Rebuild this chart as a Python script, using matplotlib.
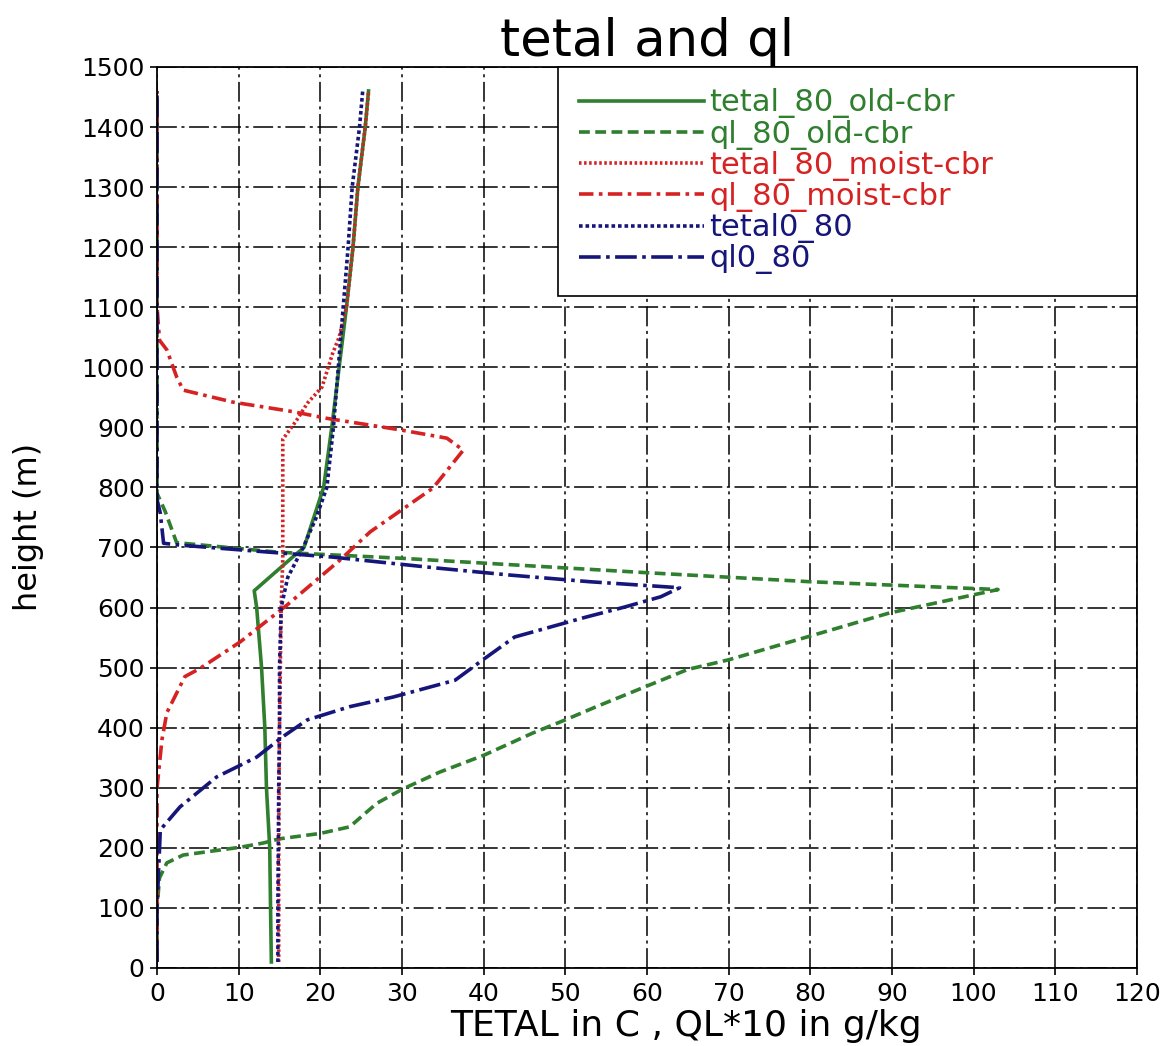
import matplotlib
matplotlib.use('Agg')
import matplotlib.pyplot as plt

# tetal_80_old-cbr
h_tetal_old = [10, 100, 200, 300, 400, 500, 600, 628, 684, 700, 800, 900, 1000, 1100, 1200, 1300, 1400, 1460]
x_tetal_old = [14.0, 13.9, 13.8, 13.4, 13.2, 12.8, 12.2, 11.9, 16.6, 18.0, 20.4, 21.4, 22.3, 23.2, 24.0, 24.6, 25.5, 25.9]

# ql_80_old-cbr
h_ql_old = [10, 100, 150, 175, 188, 201, 208, 215, 224, 235, 274, 298, 326, 354, 391, 413, 435, 497,
            513, 591, 630, 643, 658, 682, 692, 708, 760, 790, 1000, 1200, 1460]
x_ql_old = [0, 0, 0.3, 1.2, 3.2, 10.2, 13.0, 15.0, 20.0, 23.6, 26.9, 30.1, 34.6, 40.0, 46.0, 50.0, 53.8, 65.0,
            70.0, 89.7, 103.0, 80.0, 60.0, 30.0, 15.0, 2.4, 1.0, 0.0, 0, 0, 0]

# tetal_80_moist-cbr
h_tetal_moist = [10, 200, 400, 600, 680, 880, 912, 940, 967, 1023, 1050, 1100, 1200, 1300, 1400, 1458]
x_tetal_moist = [14.9, 14.9, 15.0, 15.2, 15.4, 15.4, 17.1, 18.4, 20.2, 21.5, 22.3, 23.2, 24.0, 24.6, 25.5, 25.9]

# ql_80_moist-cbr
h_ql_moist = [10, 100, 200, 300, 380, 425, 463, 485, 499, 543, 604, 679, 726, 799, 862, 882, 896, 915,
              926, 942, 962, 984, 1029, 1045, 1100, 1300, 1460]
x_ql_moist = [0, 0, 0, 0, 0.6, 1.2, 2.6, 3.4, 5.3, 10.2, 15.9, 22.4, 26.1, 33.8, 37.5, 35.5, 29.7, 20.8,
              16.7, 9.3, 3.2, 2.4, 1.2, 0.3, 0, 0, 0]

# tetal0_80
h_tetal0 = [10, 100, 200, 300, 400, 500, 600, 650, 700, 750, 800, 900, 1000, 1100, 1200, 1300, 1400, 1462]
x_tetal0 = [14.8, 14.8, 14.85, 14.9, 15.0, 15.0, 15.2, 16.0, 17.9, 19.5, 20.8, 21.6, 22.2, 22.8, 23.4, 23.9, 24.8, 25.2]

# ql0_80
h_ql0 = [10, 100, 230, 268, 318, 351, 385, 413, 435, 451, 479, 513, 551, 584, 601, 618, 633, 643, 654,
         666, 684, 696, 704, 707, 757, 780, 1000, 1200, 1460]
x_ql0 = [0, 0, 0.4, 2.8, 7.3, 12.2, 15.4, 18.4, 23.6, 28.9, 36.5, 39.9, 43.8, 52.5, 57.3, 61.7, 64.0, 53.0, 43.3,
         34.1, 21.5, 10.2, 2.8, 0.8, 0.4, 0, 0, 0, 0]

labels = ['tetal_80_old-cbr', 'ql_80_old-cbr', 'tetal_80_moist-cbr',
          'ql_80_moist-cbr', 'tetal0_80', 'ql0_80']

green = '#2f7f2f'
red = '#d62222'
navy = '#16167a'

fig = plt.figure(figsize=(11.72, 10.46), dpi=100)
ax = fig.add_axes([0.134, 0.0746, 0.836, 0.8614])

lw = 2.6
ax.plot(x_tetal_old, h_tetal_old, color=green, lw=lw, linestyle='-', label=labels[0])
ax.plot(x_ql_old, h_ql_old, color=green, lw=lw, linestyle=(0, (3, 1.5)), label=labels[1])
ax.plot(x_tetal_moist, h_tetal_moist, color=red, lw=lw, linestyle=(0, (0.7, 0.7)), label=labels[2])
ax.plot(x_ql_moist, h_ql_moist, color=red, lw=lw, linestyle=(0, (4, 1.5, 1, 1.5)), label=labels[3])
ax.plot(x_tetal0, h_tetal0, color=navy, lw=lw, linestyle=(0, (1, 0.8)), label=labels[4])
ax.plot(x_ql0, h_ql0, color=navy, lw=lw, linestyle=(0, (6, 1.5, 1, 1.5)), label=labels[5])

ax.set_xlim(0, 120)
ax.set_ylim(0, 1500)
ax.set_xticks(range(0, 121, 10))
ax.set_yticks(range(0, 1501, 100))

ax.grid(True, color='black', linewidth=1.1, linestyle=(0, (13, 3, 2, 3)))
ax.set_axisbelow(True)
for s in ax.spines.values():
    s.set_linewidth(1.3)
ax.tick_params(direction='out', length=5, width=1.2, labelsize=18)
ax.tick_params(axis='x', pad=5)
ax.tick_params(axis='y', pad=4)

ax.set_title('tetal and ql', fontsize=37, pad=8)
ax.set_xlabel('TETAL in C , QL*10 in g/kg', fontsize=26)
ax.set_ylabel('height (m)', fontsize=23)
ax.xaxis.set_label_coords(0.54, -0.046)
ax.yaxis.set_label_coords(-0.115, 0.49)

leg = ax.legend(loc='upper left', bbox_to_anchor=(0.409, 0.739, 0.591, 0.261), mode='expand',
                borderaxespad=0, fontsize=22, labelcolor='linecolor', handlelength=4.1,
                handletextpad=0.15, labelspacing=0.04, borderpad=0.7, fancybox=False,
                framealpha=1, edgecolor='black')
leg.get_frame().set_linewidth(1.2)

plt.savefig('out.png', dpi=100)
